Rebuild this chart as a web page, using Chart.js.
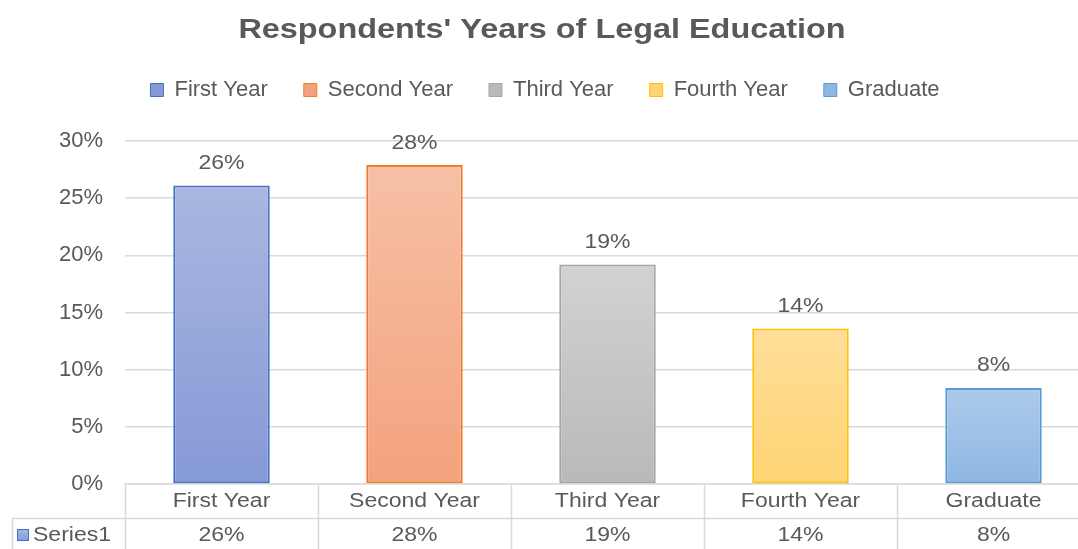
<!DOCTYPE html>
<html>
<head>
<meta charset="utf-8">
<script src="https://cdn.jsdelivr.net/npm/chart.js@4/dist/chart.umd.min.js"></script>
<style>
	html, body { margin:0; padding:0; background:#fff; overflow:hidden; }
	#wrap { width:1078px; height:549px; overflow:hidden; }
</style>
</head>
<body>
<div id="wrap"><canvas id="c" width="1090" height="549"></canvas></div>
<script>
const title = "Respondents' Years of Legal Education"
const categories = ['First Year', 'Second Year', 'Third Year', 'Fourth Year', 'Graduate']
const seriesName = 'Series1'
const values = [26.1, 27.9, 19.2, 13.6, 8.4]
const yTicks = [0, 5, 10, 15, 20, 25, 30]

const topColors = ['#a9b7e0', '#f6c0a6', '#d2d2d2', '#ffde98', '#abcaeb']
const botColors = ['#8599d6', '#f4a27d', '#b9b9b9', '#ffd474', '#8fb7e3']
const lineColors = ['#4472c4', '#ed7d31', '#a5a5a5', '#ffc000', '#5b9bd5']

const FONT = "'Liberation Sans', Arial, sans-serif"
const GREY = '#595959'
const RULE = '#d9d9d9'
const pct = v => Math.round(v) + '%'

// text drawn a bit wider than normal, like the source picture
const txt = (ctx, s, x, y, size, opt = {}) => {
	ctx.save()
	ctx.font = `${opt.bold ? 'bold ' : ''}${size}px ${FONT}`
	ctx.fillStyle = opt.color || GREY
	ctx.textAlign = opt.align || 'center'
	ctx.textBaseline = 'middle'
	ctx.translate(x, y)
	ctx.scale(opt.sx || 1.15, 1)
	ctx.fillText(s, 0, 0)
	ctx.restore()
}

const barFill = c => {
	const i = c.dataIndex
	const chart = c.chart
	if (!chart.chartArea || i === undefined) return botColors[i] || botColors[0]
	const y = chart.scales.y
	const g = chart.ctx.createLinearGradient(0, y.getPixelForValue(values[i]), 0, y.getPixelForValue(0))
	g.addColorStop(0, topColors[i])
	g.addColorStop(1, botColors[i])
	return g
}

// empty box between legend and plot, to push the plot down
const spacer = {
	id: 'spacer',
	beforeInit: chart => {
		Chart.layouts.addBox(chart, {
			position: 'top', weight: 500, fullSize: true, options: {},
			top: 0, left: 0, bottom: 0, right: 0, width: 0, height: 0,
			isHorizontal: () => true,
			update(w) { this.width = w; this.height = 30 },
			draw() {},
		})
	}
}

const extras = {
	id: 'extras',
	afterDraw: chart => {
		const ctx = chart.ctx
		const x = chart.scales.x
		const y = chart.scales.y
		const a = chart.chartArea

		// title
		txt(ctx, title, 542, 31, 27, {bold: true, sx: 1.2})

		// value labels over bars
		values.forEach((v, i) => {
			txt(ctx, pct(v), x.getPixelForValue(i), y.getPixelForValue(v) - 22, 20)
		})

		// data table under the plot
		const colW = (a.right - a.left) / categories.length
		const row1 = a.bottom + 17, row2 = a.bottom + 51, split = a.bottom + 34
		ctx.save()
		ctx.strokeStyle = RULE
		ctx.lineWidth = 1.5
		ctx.beginPath()
		for (let k = 0; k <= categories.length; k++) {
			const px = Math.round(a.left + k * colW) + 0.5
			ctx.moveTo(px, a.bottom)
			ctx.lineTo(px, chart.height)
		}
		ctx.moveTo(12.5, split)
		ctx.lineTo(12.5, chart.height)
		ctx.moveTo(12, split + 0.5)
		ctx.lineTo(a.right, split + 0.5)
		ctx.stroke()
		ctx.restore()

		categories.forEach((c, i) => {
			txt(ctx, c, x.getPixelForValue(i), row1, 20)
			txt(ctx, pct(values[i]), x.getPixelForValue(i), row2, 20)
		})

		// series key
		ctx.save()
		const g = ctx.createLinearGradient(0, row2 - 6, 0, row2 + 6)
		g.addColorStop(0, topColors[0])
		g.addColorStop(1, botColors[0])
		ctx.fillStyle = g
		ctx.strokeStyle = lineColors[0]
		ctx.lineWidth = 1
		ctx.fillRect(17, row2 - 6, 11, 11)
		ctx.strokeRect(17.5, row2 - 5.5, 11, 11)
		ctx.restore()
		txt(ctx, seriesName, 33, row2, 20, {align: 'left'})
	}
}

new Chart(document.getElementById('c'), {
	type: 'bar',
	plugins: [spacer, extras],
	data: {
		labels: categories,
		datasets: [{
			label: seriesName,
			data: values,
			backgroundColor: barFill,
			borderColor: lineColors,
			borderWidth: 2,
			borderSkipped: false,
			categoryPercentage: 1,
			barPercentage: 0.5,
		}]
	},
	options: {
		responsive: false,
		animation: false,
		layout: { padding: { top: 43, right: 0, left: 0, bottom: 0 } },
		plugins: {
			title: { display: false },
			tooltip: { enabled: false },
			legend: {
				position: 'top',
				onClick: null,
				labels: {
					color: GREY,
					font: { family: FONT, size: 22 },
					boxWidth: 13,
					boxHeight: 13,
					padding: 36,
					generateLabels: () => categories.map((c, i) => ({
						text: c,
						fillStyle: botColors[i],
						strokeStyle: lineColors[i],
						fontColor: GREY,
						lineWidth: 1,
						index: i,
					})),
				},
			},
		},
		scales: {
			x: {
				grid: { display: false },
				border: { color: RULE, width: 1.5 },
				ticks: { display: false },
				afterFit: s => { s.height = 65 },
			},
			y: {
				min: 0,
				max: 30,
				afterBuildTicks: s => { s.ticks = yTicks.map(v => ({value: v})) },
				afterFit: s => { s.width = 125 },
				border: { display: false },
				grid: { color: RULE, lineWidth: 1.5, drawTicks: false },
				ticks: {
					color: GREY,
					font: { family: FONT, size: 22 },
					padding: 22,
					callback: v => v + '%',
				},
			},
		},
	},
})
</script>
</body>
</html>
